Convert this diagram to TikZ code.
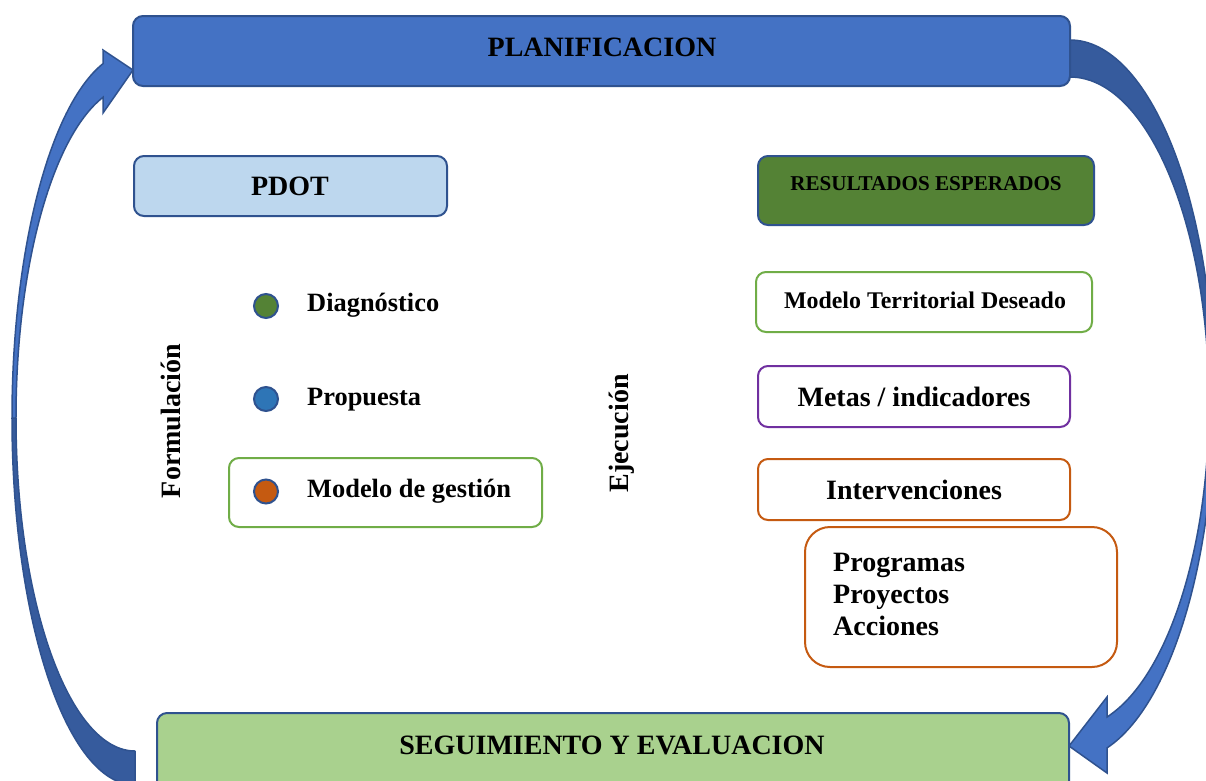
\documentclass[tikz,border=0pt]{standalone}
\usepackage{fontspec}
\setmainfont{Liberation Serif}
\definecolor{blueA}{HTML}{4472C4}
\definecolor{blueLine}{HTML}{2F528F}
\definecolor{blueDark}{HTML}{365B9D}
\definecolor{blueLight}{HTML}{BDD7EE}
\definecolor{greenDark}{HTML}{548235}
\definecolor{greenLine}{HTML}{70AD47}
\definecolor{greenLight}{HTML}{A9D18E}
\definecolor{purpleLine}{HTML}{7030A0}
\definecolor{orangeLine}{HTML}{C55A11}
\definecolor{dotBlue}{HTML}{2E75B6}
\tikzset{
  box/.style={draw, rounded corners=10pt, line width=2pt, inner sep=0pt},
  bluebox/.style={box, draw=blueLine},
  txt/.style={font=\bfseries\fontsize{28}{34}\selectfont, anchor=base, inner sep=0pt, text=black},
  txtmid/.style={txt, font=\bfseries\fontsize{26.4}{32}\selectfont},
  txtsmall/.style={txt, font=\bfseries\fontsize{23.9}{29}\selectfont},
  txttiny/.style={txt, font=\bfseries\fontsize{21.1}{26}\selectfont},
  dot/.style={circle, draw=blueLine, line width=2pt, minimum size=24pt, inner sep=0pt},
  arrowdark/.style={fill=blueDark, draw=blueLine, line width=1.5pt, line join=round},
  arrowlight/.style={fill=blueA, draw=blueLine, line width=1.5pt, line join=miter},
}
\begin{document}
\begin{tikzpicture}[x=1pt,y=-1pt]
\path[use as bounding box] (0,0) rectangle (1206,780);
\fill[white] (0,0) rectangle (1206,780);
\clip (0,0) rectangle (1206,780);

% left curved arrow (tail at bottom, head at PLANIFICACION)
\path[arrowdark] (12,418) arc[start angle=180, end angle=90, x radius=123, y radius=367]
  -- (135,751) arc[start angle=90, end angle=180, x radius=119, y radius=333] -- cycle;
\path[arrowlight] (12,418) arc[start angle=180, end angle=255, x radius=123, y radius=367]
  -- (103,50) -- (133,70) -- (103,113) -- (103,97.3)
  arc[start angle=254.4, end angle=180, x radius=119, y radius=333] -- cycle;

% right curved arrow (tail at PLANIFICACION, head at SEGUIMIENTO)
\path[arrowdark] (1070,40) arc[start angle=-90, end angle=0, x radius=144, y radius=360]
  -- (1209,403) arc[start angle=0, end angle=-90, x radius=139, y radius=326] -- cycle;
\path[arrowlight] (1214,400) arc[start angle=0, end angle=75.1, x radius=144, y radius=360]
  -- (1107,773) -- (1069,746) -- (1107,697) -- (1107,717)
  arc[start angle=74.6, end angle=0, x radius=139, y radius=326] -- cycle;

% boxes
\node[bluebox, fill=blueA, minimum width=937pt, minimum height=70pt] (plan) at (601.5,51) {};
\node[bluebox, fill=blueLight, minimum width=313pt, minimum height=60pt] (pdot) at (290.5,186) {};
\node[bluebox, fill=greenDark, minimum width=336pt, minimum height=69pt] (res) at (926,190.5) {};
\node[box, draw=greenLine, fill=white, minimum width=336pt, minimum height=60pt] (mtd) at (924,302) {};
\node[box, draw=purpleLine, fill=white, minimum width=312pt, minimum height=61pt] (metas) at (914,396.5) {};
\node[box, draw=orangeLine, fill=white, minimum width=312pt, minimum height=61pt] (inter) at (914,489.5) {};
\node[box, draw=orangeLine, fill=white, rounded corners=25pt, minimum width=312pt, minimum height=140pt] (prog) at (961,597) {};
\node[box, draw=greenLine, fill=white, minimum width=313pt, minimum height=69pt] (gest) at (385.5,492.5) {};
\node[bluebox, fill=greenLight, minimum width=912pt, minimum height=90pt] (seg) at (613,758) {};

% dots
\node[dot, fill=greenDark] (d1) at (266,306) {};
\node[dot, fill=dotBlue] (d2) at (266,399) {};
\node[dot, fill=orangeLine] (d3) at (266,491.5) {};

% texts
\node[txt] (tplan) at (602,56) {PLANIFICACION};
\node[txt] (tpdot) at (290,195) {PDOT};
\node[txttiny] (tres) at (926,190.7) {RESULTADOS ESPERADOS};
\node[txtsmall] (tmtd) at (925,308) {Modelo Territorial Deseado};
\node[txt] (tmetas) at (914,406) {Metas / indicadores};
\node[txt] (tint) at (914,499) {Intervenciones};
\node[txt] (tseg) at (612,754) {SEGUIMIENTO Y EVALUACION};
\node[txtmid, anchor=base west] (tdiag) at (307,311.5) {Diagnóstico};
\node[txtmid, anchor=base west] (tprop) at (307,405) {Propuesta};
\node[txtmid, anchor=base west] (tgest) at (307,497.7) {Modelo de gestión};
\node[txt, anchor=base west] (tp1) at (833,571.7) {Programas};
\node[txt, anchor=base west] (tp2) at (833,603.3) {Proyectos};
\node[txt, anchor=base west] (tp3) at (833,635) {Acciones};
\node[txt, rotate=90] (tform) at (180,421) {Formulación};
\node[txt, rotate=90] (tejec) at (628,433.5) {Ejecución};
\end{tikzpicture}
\end{document}
